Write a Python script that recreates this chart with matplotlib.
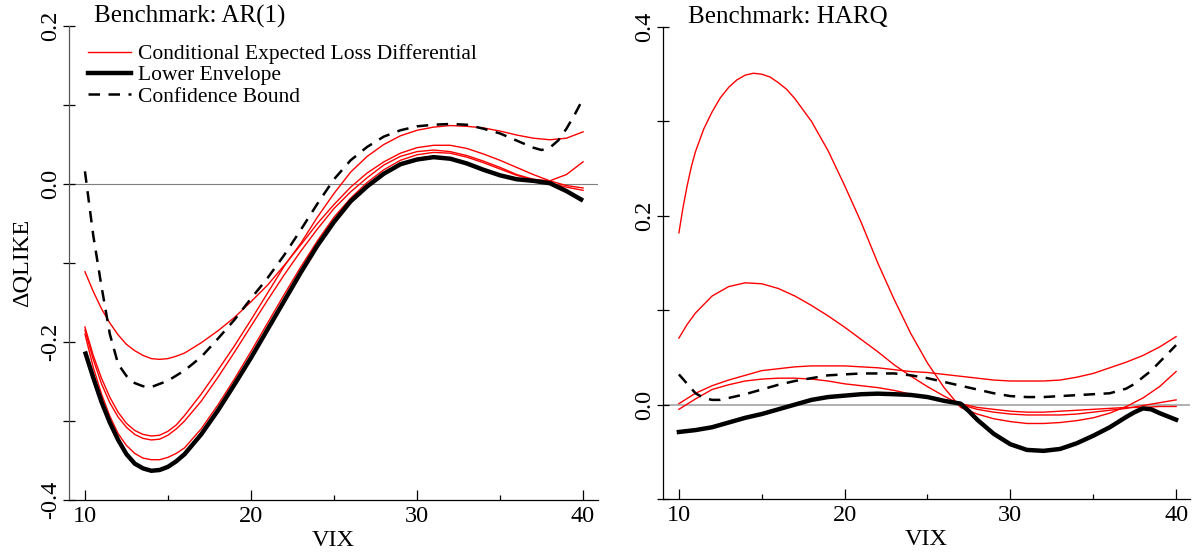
import matplotlib
matplotlib.use("Agg")
import matplotlib.pyplot as plt
from matplotlib.lines import Line2D

plt.rcParams["font.family"] = ["Liberation Serif", "DejaVu Serif"]
plt.rcParams["axes.unicode_minus"] = False

# ---------------- data: Benchmark AR(1) ----------------
VIX = list(range(10, 41))
VIX_L = [10, 10.5, 11, 11.5, 12, 12.5, 13, 13.5, 14, 14.5, 15, 15.5] + list(range(16, 41))

ar1_red_a = [-0.181, -0.217, -0.246, -0.27, -0.289, -0.303, -0.312, -0.317, -0.319, -0.318,
             -0.313, -0.305, -0.293, -0.266, -0.236, -0.205,
             -0.172, -0.138, -0.104, -0.075, -0.042, -0.012, 0.015, 0.035, 0.05, 0.061,
             0.068, 0.072, 0.074, 0.073, 0.071, 0.067, 0.062, 0.058, 0.056, 0.058, 0.066]
ar1_red_b = [-0.111, -0.136, -0.158, -0.176, -0.191, -0.203, -0.211, -0.217, -0.221, -0.222,
             -0.221, -0.218, -0.214, -0.201, -0.186, -0.169,
             -0.149, -0.128, -0.103, -0.077, -0.05, -0.026, -0.004, 0.014, 0.028, 0.039,
             0.046, 0.049, 0.049, 0.045, 0.038, 0.03, 0.021, 0.012, 0.004, -0.002, -0.005]
ar1_red_c = [-0.185, -0.222, -0.253, -0.277, -0.295, -0.308, -0.317, -0.322, -0.324, -0.323,
             -0.318, -0.31, -0.3, -0.275, -0.245, -0.213,
             -0.18, -0.147, -0.115, -0.085, -0.057, -0.031, -0.01, 0.008, 0.024, 0.035,
             0.041, 0.043, 0.041, 0.036, 0.029, 0.021, 0.012, 0.006, 0.004, 0.012, 0.028]
ar1_red_d = [-0.19, -0.232, -0.266, -0.294, -0.316, -0.331, -0.341, -0.347, -0.349, -0.349,
             -0.346, -0.341, -0.334, -0.31, -0.28, -0.247,
             -0.212, -0.176, -0.14, -0.105, -0.072, -0.042, -0.018, 0.002, 0.018, 0.03,
             0.037, 0.04, 0.039, 0.034, 0.027, 0.019, 0.011, 0.005, 0.001, -0.004, -0.008]
ar1_lower = [-0.212, -0.245, -0.276, -0.302, -0.324, -0.342, -0.354, -0.36, -0.363, -0.362,
             -0.358, -0.351, -0.342, -0.317, -0.287, -0.254,
             -0.22, -0.184, -0.148, -0.112, -0.078, -0.048, -0.022, -0.003, 0.013, 0.025,
             0.031, 0.034, 0.032, 0.026, 0.018, 0.011, 0.006, 0.004, 0.001, -0.009, -0.021]
ar1_bound_x = [10, 10.5, 11, 11.5, 12, 12.5, 13, 13.5, 14, 15, 16, 17, 18, 19, 20, 21, 22, 23,
               24, 25, 26, 27, 28, 29, 30, 31, 32, 33, 34, 35, 36, 37, 37.5, 38, 38.5, 39,
               39.5, 40]
ar1_bound = [0.016, -0.065, -0.13, -0.19, -0.228, -0.243, -0.252, -0.256, -0.257, -0.249,
             -0.236, -0.219, -0.196, -0.172, -0.145, -0.119, -0.09, -0.058, -0.025, 0.006,
             0.03, 0.047, 0.06, 0.068, 0.073, 0.075, 0.076, 0.075, 0.07, 0.064, 0.055, 0.046,
             0.043, 0.046, 0.055, 0.07, 0.088, 0.108]

# ---------------- data: Benchmark HARQ ----------------
harq_h1_x = [10, 10.25, 10.5, 10.75, 11, 11.5, 12, 12.5, 13, 13.5, 14, 14.5, 15, 15.5, 16,
             16.5] + list(range(17, 41))
harq_h1 = [0.182, 0.209, 0.232, 0.252, 0.268, 0.292, 0.31, 0.325, 0.336, 0.344, 0.349,
           0.351, 0.35, 0.347, 0.341, 0.334, 0.324, 0.3, 0.269,
           0.232, 0.193, 0.15, 0.111, 0.075, 0.044, 0.018, -0.003, -0.01, -0.015, -0.018,
           -0.02, -0.02, -0.019, -0.017, -0.014, -0.009, -0.002, 0.007, 0.019, 0.035]
harq_h2_x = [10, 10.5] + list(range(11, 41))
harq_h2 = [0.0705, 0.085, 0.097, 0.115, 0.125, 0.129, 0.128, 0.123, 0.115, 0.105, 0.094,
           0.082, 0.069, 0.056, 0.042, 0.03, 0.019, 0.009, 0.0, -0.005, -0.008, -0.01,
           -0.011, -0.011, -0.011, -0.01, -0.008, -0.006, -0.004, -0.001, 0.002, 0.005]
harq_f1 = [0.001, 0.012, 0.02, 0.026, 0.031, 0.036, 0.038, 0.04, 0.041, 0.041, 0.041, 0.04,
           0.039, 0.037, 0.035, 0.034, 0.032, 0.03, 0.028, 0.026, 0.025, 0.025, 0.025, 0.026,
           0.029, 0.033, 0.039, 0.045, 0.052, 0.061, 0.072]
harq_f2 = [-0.005, 0.006, 0.016, 0.021, 0.025, 0.027, 0.028, 0.028, 0.027, 0.025, 0.022,
           0.02, 0.018, 0.015, 0.011, 0.007, 0.004, 0.001, -0.003, -0.005, -0.007, -0.008,
           -0.008, -0.007, -0.006, -0.005, -0.004, -0.003, -0.003, -0.002, -0.002]
harq_lower_x = list(range(10, 28)) + [27.5] + list(range(28, 38)) + [37.5, 38, 38.5, 39, 40]
harq_lower = [-0.029, -0.027, -0.024, -0.019, -0.014, -0.01, -0.005, 0.0, 0.005, 0.008,
              0.0095, 0.011, 0.0116, 0.011, 0.0102, 0.008, 0.004, 0.001, -0.007, -0.016,
              -0.031, -0.042, -0.048, -0.049, -0.047, -0.041, -0.033, -0.024, -0.013,
              -0.008, -0.004, -0.005, -0.009, -0.016]
harq_bound_x = [10, 10.5, 11, 11.5, 12, 12.5] + list(range(13, 38)) + [37.5, 38, 38.5, 39, 39.5, 40]
harq_bound = [0.032, 0.022, 0.012, 0.007, 0.005, 0.005, 0.007, 0.011, 0.016, 0.021, 0.025,
              0.028, 0.031, 0.032, 0.033, 0.033, 0.033, 0.031, 0.028, 0.024, 0.02, 0.016,
              0.012, 0.009, 0.008, 0.008, 0.009, 0.01, 0.011, 0.012, 0.017, 0.022, 0.029,
              0.036, 0.045, 0.054, 0.063]

RED_LW = 1.0
LOW_LW = 3.2
DASH_LW = 1.8
DASHES = (4.6, 3.4)
FS = 17.5


def style_axes(ax, xlim, ylim, yticks, ylabels, yminor, zero_color, zero_lw):
    ax.set_xlim(*xlim)
    ax.set_ylim(*ylim)
    ax.spines["top"].set_visible(False)
    ax.spines["right"].set_visible(False)
    for s in ("left", "bottom"):
        ax.spines[s].set_linewidth(0.9)
    ax.axhline(0, color=zero_color, lw=zero_lw, zorder=1)
    ax.set_xticks([10, 20, 30, 40])
    ax.set_xticklabels(["10", "20", "30", "40"])
    ax.set_xticks([15, 25, 35], minor=True)
    ax.set_yticks(yticks)
    ax.set_yticklabels(ylabels, rotation=90, va="center")
    ax.set_yticks(yminor, minor=True)
    ax.tick_params(axis="x", which="major", direction="in", length=7, width=0.9,
                   labelsize=FS, pad=4)
    ax.tick_params(axis="x", which="minor", direction="in", length=3.6, width=0.9)
    ax.tick_params(axis="y", which="both", direction="inout", length=9, width=0.9,
                   labelsize=FS, pad=1)
    ax.text(0.5, -0.086, "VIX", transform=ax.transAxes, ha="center", va="center",
            fontsize=FS)


fig = plt.figure(figsize=(11.92, 5.52), dpi=100)

# ---- left panel ----
ax1 = fig.add_axes([69 / 1192, 1 - 500 / 552, 529 / 1192, 474 / 552])
style_axes(ax1, (9.04, 40.9), (-0.4, 0.2), [-0.4, -0.2, 0.0, 0.2],
           ["-0.4", "-0.2", "0.0", "0.2"], [-0.3, -0.1, 0.1], "#7f7f7f", 0.8)
ax1.spines["left"].set_color("#555555")
for ys in (ar1_red_a, ar1_red_b, ar1_red_c, ar1_red_d):
    ax1.plot(VIX_L, ys, color="red", lw=RED_LW, zorder=2)
ax1.plot(VIX_L, ar1_lower, color="black", lw=LOW_LW, zorder=3, solid_capstyle="butt")
ax1.plot(ar1_bound_x, ar1_bound, color="black", lw=DASH_LW, dashes=DASHES, zorder=3)
ax1.text(0.047, 1.008, "Benchmark: AR(1)", transform=ax1.transAxes, fontsize=18,
         ha="left", va="baseline")
ax1.text(-0.089, 0.5, "\u0394QLIKE", transform=ax1.transAxes, rotation=90,
         ha="center", va="center", fontsize=FS)

handles = [Line2D([], [], color="red", lw=RED_LW),
           Line2D([], [], color="black", lw=LOW_LW),
           Line2D([], [], color="black", lw=DASH_LW, dashes=DASHES)]
labels = ["Conditional Expected Loss Differential", "Lower Envelope", "Confidence Bound"]
ax1.legend(handles, labels, loc="upper left", bbox_to_anchor=(0.036, 0.962),
           frameon=False, fontsize=15.5, handlelength=2.0, handletextpad=0.33,
           labelspacing=0.06, borderpad=0, borderaxespad=0)

# ---- right panel ----
ax2 = fig.add_axes([663 / 1192, 1 - 499 / 552, 527 / 1192, 472 / 552])
style_axes(ax2, (9.04, 40.84), (-0.1, 0.4), [0.0, 0.2, 0.4],
           ["0.0", "0.2", "0.4"], [-0.1, 0.1, 0.3], "#b0b0b0", 1.4)
ax2.plot(harq_h1_x, harq_h1, color="red", lw=RED_LW, zorder=2)
ax2.plot(harq_h2_x, harq_h2, color="red", lw=RED_LW, zorder=2)
for ys in (harq_f1, harq_f2):
    ax2.plot(VIX, ys, color="red", lw=RED_LW, zorder=2)
ax2.plot(harq_lower_x, harq_lower, color="black", lw=LOW_LW, zorder=3)
ax2.plot(harq_bound_x, harq_bound, color="black", lw=DASH_LW, dashes=DASHES, zorder=3)
ax2.text(0.047, 1.008, "Benchmark: HARQ", transform=ax2.transAxes, fontsize=18,
         ha="left", va="baseline")

fig.savefig("out.png", dpi=100)
